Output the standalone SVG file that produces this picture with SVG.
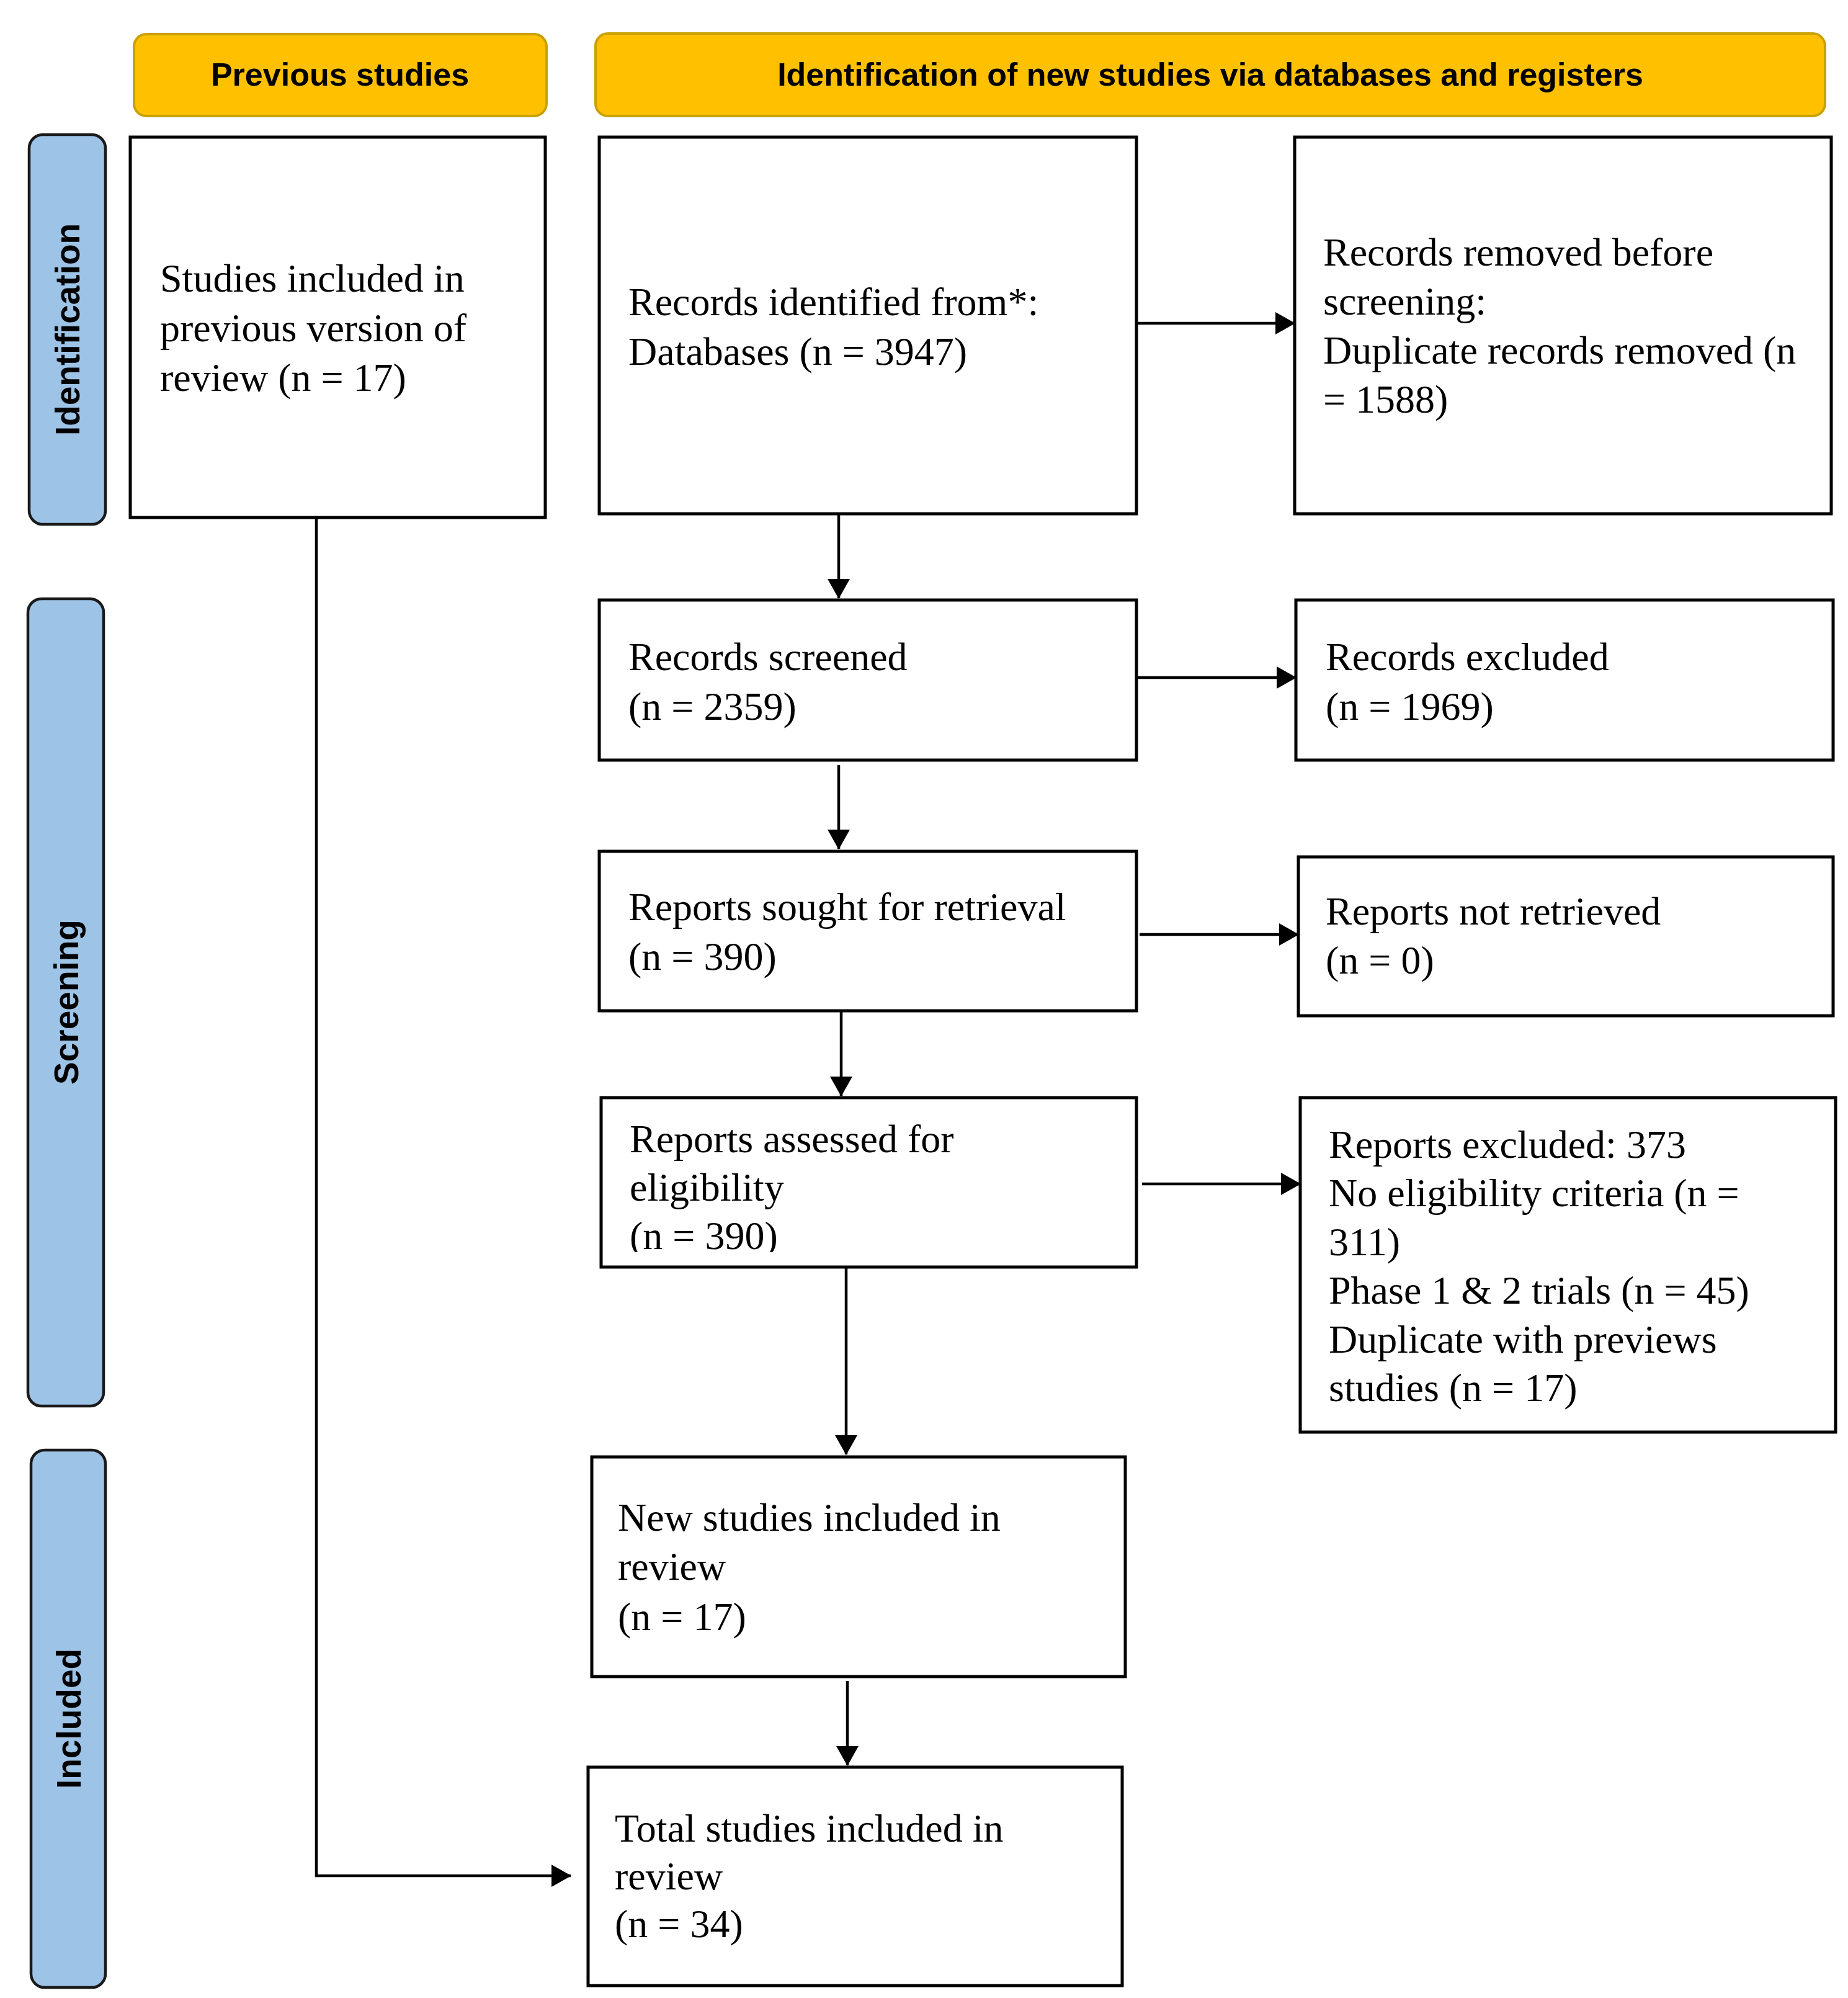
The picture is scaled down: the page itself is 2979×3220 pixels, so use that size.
<svg xmlns="http://www.w3.org/2000/svg" width="2979" height="3220" viewBox="0 0 2979 3220">
<style>
.box{fill:#fff;stroke:#000;stroke-width:5}
.hdr{fill:#FFC000;stroke:#C9A100;stroke-width:4}
.side{fill:#9DC3E6;stroke:#1a1a1a;stroke-width:4.5}
.t{font-family:"Liberation Serif","Times New Roman",serif;font-size:64px;fill:#000}
.h{font-family:"Liberation Sans",Arial,sans-serif;font-weight:bold;font-size:52px;fill:#000;text-anchor:middle}
.s{font-family:"Liberation Sans",Arial,sans-serif;font-weight:bold;font-size:55px;fill:#000;text-anchor:middle}
.c{fill:none;stroke:#000;stroke-width:4.5}
</style>
<defs>
<marker id="ah" viewBox="0 0 32 36" refX="31" refY="18" markerWidth="32" markerHeight="36" markerUnits="userSpaceOnUse" orient="auto">
<path d="M0,0 L32,18 L0,36 Z" fill="#000"/>
</marker>
<clipPath id="clipAssessed"><rect x="969" y="1769" width="863" height="249"/></clipPath>
</defs>
<rect width="2979" height="3220" fill="#fff"/>

<g id="header-previous">
<rect class="hdr" x="216" y="55" width="665" height="132" rx="20"/>
<text class="h" x="548" y="138">Previous studies</text>
</g>
<g id="header-new">
<rect class="hdr" x="960" y="54" width="1982" height="133" rx="20"/>
<text class="h" x="1951" y="138">Identification of new studies via databases and registers</text>
</g>

<g id="side-identification">
<rect class="side" x="47" y="217" width="123" height="628" rx="22"/>
<text class="s" transform="translate(128,531) rotate(-90)">Identification</text>
</g>
<g id="side-screening">
<rect class="side" x="45" y="965" width="122" height="1301" rx="22"/>
<text class="s" transform="translate(126,1615) rotate(-90)">Screening</text>
</g>
<g id="side-included">
<rect class="side" x="50" y="2337" width="120" height="866" rx="22"/>
<text class="s" transform="translate(130,2770) rotate(-90)">Included</text>
</g>

<g id="connectors">
<line class="c" x1="1832" y1="521" x2="2087" y2="521" marker-end="url(#ah)"/>
<line class="c" x1="1832" y1="1092" x2="2089" y2="1092" marker-end="url(#ah)"/>
<line class="c" x1="1837" y1="1506" x2="2093" y2="1506" marker-end="url(#ah)"/>
<line class="c" x1="1841" y1="1908" x2="2096" y2="1908" marker-end="url(#ah)"/>
<line class="c" x1="1352" y1="828" x2="1352" y2="964" marker-end="url(#ah)"/>
<line class="c" x1="1352" y1="1233" x2="1352" y2="1368" marker-end="url(#ah)"/>
<line class="c" x1="1356" y1="1629" x2="1356" y2="1766" marker-end="url(#ah)"/>
<line class="c" x1="1364" y1="2042" x2="1364" y2="2344" marker-end="url(#ah)"/>
<line class="c" x1="1366" y1="2709" x2="1366" y2="2845" marker-end="url(#ah)"/>
<path class="c" d="M510,834 V3023 H920" marker-end="url(#ah)"/>
</g>

<g id="node-previous">
<rect class="box" x="210" y="221" width="669" height="613"/>
<text class="t" x="258" y="470">Studies included in</text>
<text class="t" x="258" y="550">previous version of</text>
<text class="t" x="258" y="630">review (n = 17)</text>
</g>
<g id="node-identified">
<rect class="box" x="966" y="221" width="866" height="607"/>
<text class="t" x="1013" y="508">Records identified from*:</text>
<text class="t" x="1013" y="588">Databases (n = 3947)</text>
</g>
<g id="node-removed">
<rect class="box" x="2087" y="221" width="865" height="607"/>
<text class="t" x="2133" y="428">Records removed before</text>
<text class="t" x="2133" y="507">screening:</text>
<text class="t" x="2133" y="586">Duplicate records removed (n</text>
<text class="t" x="2133" y="665">= 1588)</text>
</g>
<g id="node-screened">
<rect class="box" x="966" y="967" width="866" height="258"/>
<text class="t" x="1013" y="1080">Records screened</text>
<text class="t" x="1013" y="1160">(n = 2359)</text>
</g>
<g id="node-excluded">
<rect class="box" x="2089" y="967" width="866" height="258"/>
<text class="t" x="2137" y="1080">Records excluded</text>
<text class="t" x="2137" y="1160">(n = 1969)</text>
</g>
<g id="node-sought">
<rect class="box" x="966" y="1372" width="866" height="257"/>
<text class="t" x="1013" y="1483">Reports sought for retrieval</text>
<text class="t" x="1013" y="1563">(n = 390)</text>
</g>
<g id="node-not-retrieved">
<rect class="box" x="2093" y="1381" width="862" height="256"/>
<text class="t" x="2137" y="1490">Reports not retrieved</text>
<text class="t" x="2137" y="1569">(n = 0)</text>
</g>
<g id="node-assessed">
<rect class="box" x="969" y="1769" width="863" height="273"/>
<g clip-path="url(#clipAssessed)">
<text class="t" x="1015" y="1857">Reports assessed for</text>
<text class="t" x="1015" y="1935">eligibility</text>
<text class="t" x="1015" y="2013">(n = 390)</text>
</g>
</g>
<g id="node-reports-excluded">
<rect class="box" x="2096" y="1769" width="863" height="539"/>
<text class="t" x="2142" y="1866">Reports excluded: 373</text>
<text class="t" x="2142" y="1944">No eligibility criteria (n =</text>
<text class="t" x="2142" y="2023">311)</text>
<text class="t" x="2142" y="2101">Phase 1 &amp; 2 trials (n = 45)</text>
<text class="t" x="2142" y="2180">Duplicate with previews</text>
<text class="t" x="2142" y="2258">studies (n = 17)</text>
</g>
<g id="node-new">
<rect class="box" x="954" y="2348" width="860" height="354"/>
<text class="t" x="996" y="2467">New studies included in</text>
<text class="t" x="996" y="2546">review</text>
<text class="t" x="996" y="2627">(n = 17)</text>
</g>
<g id="node-total">
<rect class="box" x="948" y="2848" width="861" height="352"/>
<text class="t" x="991" y="2968">Total studies included in</text>
<text class="t" x="991" y="3045">review</text>
<text class="t" x="991" y="3122">(n = 34)</text>
</g>
</svg>
